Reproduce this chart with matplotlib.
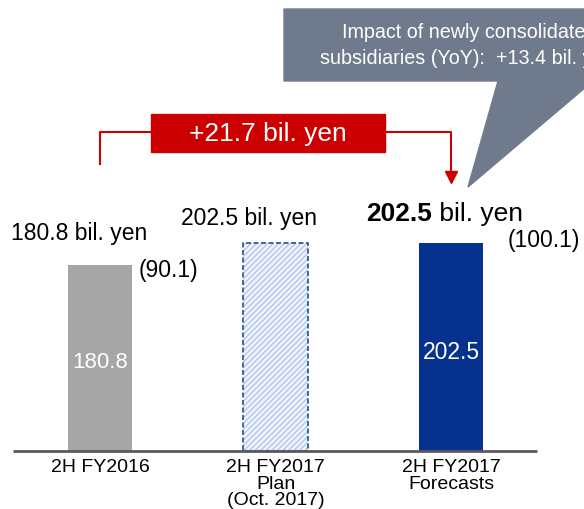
import matplotlib.pyplot as plt
from matplotlib.patches import Polygon, Rectangle

plt.rcParams['font.family'] = ['Liberation Sans', 'DejaVu Sans']

# data
categories = ['2H FY2016', '2H FY2017\nPlan\n(Oct. 2017)', '2H FY2017\nForecasts']
values = [180.8, 202.5, 202.5]
yoy = ['(90.1)', None, '(100.1)']
diff_label = '+21.7 bil. yen'
callout_lines = ['Impact of newly consolidated',
                 'subsidiaries (YoY):  +13.4 bil. yen']

W, H = 584, 510
fig = plt.figure(figsize=(W / 100, H / 100), dpi=100)
ax = fig.add_axes([0, 0, 1, 1])
ax.axis('off')

# pixel layout: bar centres 175.5 px apart, 1.027 px per bil. yen, baseline at y=452
sx, sy = 175.5, 1.027
ax.set_xlim(-100 / sx, (W - 100) / sx)
ax.set_ylim(-(H - 452) / sy, 452 / sy)


def px(x, y):
    """top-left pixel coords -> figure fraction"""
    return x / W, 1 - y / H


x = list(range(len(values)))
bw = 0.37

# bars
ax.bar(x[0], values[0], width=bw, color='#A6A6A6', zorder=2)
ax.bar(x[1], values[1], width=bw, color='#F0F4FC', edgecolor='#B0C6EE',
       hatch='//////', linewidth=0, zorder=2)
ax.bar(x[1], values[1], width=bw, fill=False, edgecolor='#2B4A9C',
       linewidth=1.2, linestyle=(0, (3, 1.5)), zorder=3)
ax.bar(x[2], values[2], width=bw, color='#06318F', zorder=2)

# baseline
ax.plot([-0.495, 2.49], [0, 0], color='#595959', lw=2, zorder=4,
        solid_capstyle='butt')

# values inside bars
ax.text(x[0], values[0] * 0.48, f'{values[0]:.1f}', color='white', fontsize=16,
        ha='center', va='center')
ax.text(x[2], values[2] * 0.48, f'{values[2]:.1f}', color='white', fontsize=16.5,
        ha='center', va='center')

# labels above bars
ax.text(x[0] - 0.12, values[0] + 32, f'{values[0]:.1f} bil. yen', fontsize=16.5,
        ha='center', va='center')
ax.text(x[0] + 0.22, values[0] - 4, yoy[0], fontsize=16.5, ha='left', va='center')
ax.text(x[1] - 0.15, values[1] + 25, f'{values[1]:.1f} bil. yen', fontsize=16.5,
        ha='center', va='center')
t = ax.text(x[2] - 0.485, values[2] + 29, f'{values[2]:.1f}', fontsize=19,
            fontweight='bold', ha='left', va='center')
ax.annotate(' bil. yen', xy=(1, 0.5), xycoords=t, fontsize=19,
            ha='left', va='center')
ax.text(x[2] + 0.32, values[2] + 3.5, yoy[2], fontsize=16.5, ha='left', va='center')

# category labels
for xi, lab in zip(x, categories):
    ax.text(xi, -7, lab, fontsize=14, ha='center', va='top', linespacing=0.97)

# red bracket with difference box
red = '#CC0000'
yb = (452 - 133) / sy
ax.plot([x[0], x[0], 0.4], [(452 - 165) / sy, yb, yb], color=red, lw=1.5, zorder=5)
ax.plot([1.6, x[2], x[2]], [yb, yb, (452 - 176) / sy], color=red, lw=1.5, zorder=5)
ax.plot(x[2], (452 - 178) / sy, marker='v', color=red, markersize=8, zorder=6)
ax.add_patch(Rectangle(px(151, 153), (385 - 151) / W, 38 / H, transform=fig.transFigure,
                       color=red, zorder=6))
fig.text(*px(268, 134), diff_label, color='white', fontsize=19, ha='center',
         va='center', zorder=7)

# grey callout (runs off the right edge, as in the source slide)
pts = [(284, 10), (640, 10), (640, 82), (593, 82), (468, 188), (498, 82), (284, 82)]
ax.add_patch(Polygon([px(a, b) for a, b in pts], closed=True,
                     transform=fig.transFigure, color='#6F7A8C', zorder=6))
fig.text(*px(342, 33), callout_lines[0], color='white', fontsize=14.2,
         ha='left', va='center', zorder=7)
fig.text(*px(320, 58), callout_lines[1], color='white', fontsize=14.2,
         ha='left', va='center', zorder=7)

fig.savefig('out.png', dpi=100)
